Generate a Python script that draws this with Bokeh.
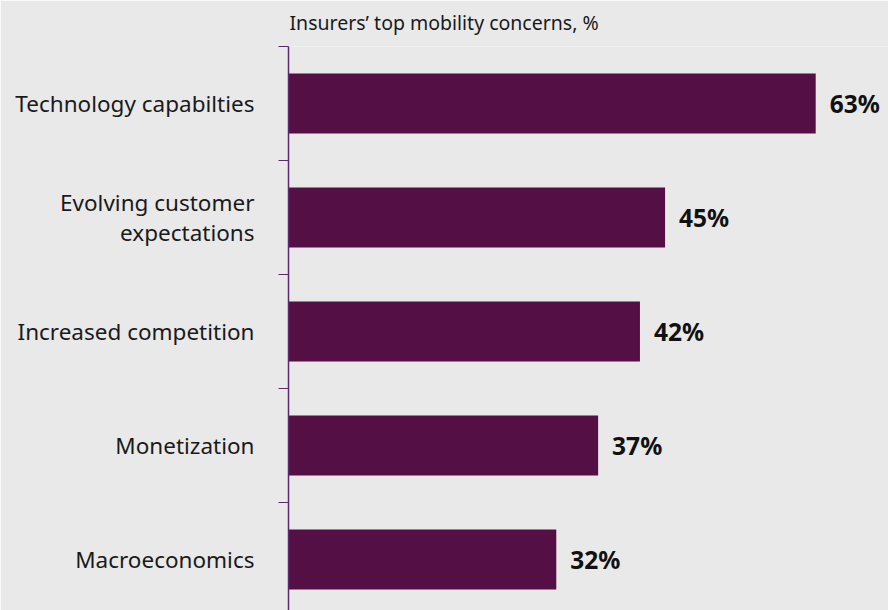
from bokeh.plotting import figure
from bokeh.models import Range1d, FixedTicker, ColumnDataSource, LabelSet
from bokeh.core.properties import value
from bokeh.embed import file_html
from bokeh.resources import INLINE

categories = ["Technology capabilties", "Evolving customer\nexpectations", "Increased competition", "Monetization", "Macroeconomics"]
values = [63, 45, 42, 37, 32]
value_labels = ["63%", "45%", "42%", "37%", "32%"]
title_text = "Insurers\u2019 top mobility concerns, %"

BG = "#e9e9e9"
BAR = "#541044"
AXIS = "#5b2a6e"
FONT = "Noto Sans"

n = len(categories)
ypos = list(range(n))

p = figure(width=888, height=610, output_backend="svg", toolbar_location=None,
           x_range=Range1d(0, 71.7), y_range=Range1d(start=4.447, end=-0.5),
           min_border_left=288, min_border_top=46, min_border_bottom=0, min_border_right=0,
           title=title_text)
p.background_fill_color = BG
p.border_fill_color = BG
p.outline_line_color = None
p.xgrid.visible = False
p.ygrid.visible = False
p.xaxis.visible = False

p.title.text_font = FONT
p.title.text_font_size = "19.5px"
p.title.text_font_style = "normal"
p.title.text_color = "#1a1a1a"
p.title.align = "left"
p.title.offset = 1
p.title.standoff = 17
p.title.vertical_align = "top"

src = ColumnDataSource(dict(y=ypos, v=values, lab=value_labels))
p.hbar(y="y", right="v", left=0, height=0.526, source=src, color=BAR, line_color=None)

p.yaxis.ticker = FixedTicker(ticks=ypos, minor_ticks=[i - 0.5 for i in range(n + 1)])
p.yaxis.major_label_overrides = {i: c for i, c in enumerate(categories)}
p.yaxis.major_label_text_font = FONT
p.yaxis.major_label_text_font_size = "22.5px"
p.yaxis.major_label_text_color = "#1a1a1a"
p.yaxis.major_label_text_line_height = 0.95
p.yaxis.major_label_standoff = 24
p.yaxis.major_tick_line_color = None
p.yaxis.major_tick_out = 0
p.yaxis.major_tick_in = 0
p.yaxis.axis_line_color = AXIS
p.yaxis.axis_line_width = 1.5
p.yaxis.minor_tick_line_color = AXIS
p.yaxis.minor_tick_out = 10
p.yaxis.minor_tick_in = 0

vl = LabelSet(x="v", y="y", text="lab", source=src, x_offset=14,
              text_font=value(FONT), text_font_size=value("24.5px"), text_font_style="bold",
              text_color="#111111", text_align="left", text_baseline="middle")
p.add_layout(vl)

open("out.html", "w").write(file_html(p, INLINE))
